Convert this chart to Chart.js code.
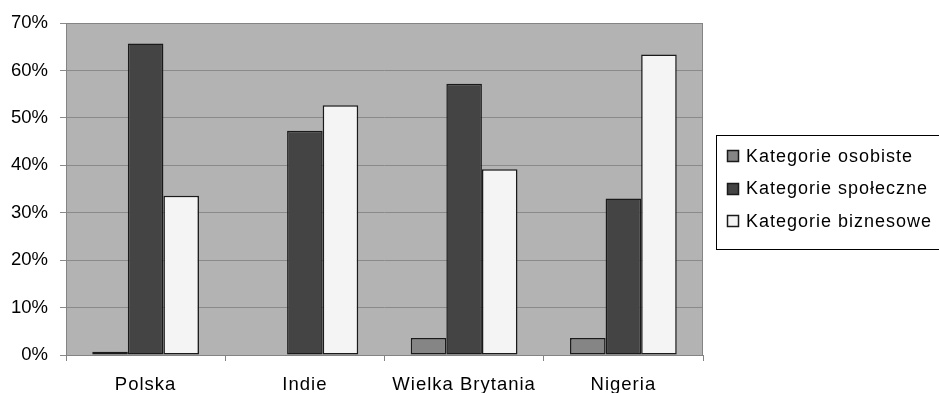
<!DOCTYPE html>
<html>
<head>
<meta charset="utf-8">
<script src="https://cdn.jsdelivr.net/npm/chart.js@4.4.1/dist/chart.umd.min.js"></script>
<style>
  html, body { margin: 0; padding: 0; background: #ffffff; }
  #wrap { width: 939px; height: 393px; position: relative; }
</style>
</head>
<body>
<div id="wrap"><canvas id="c" width="939" height="393"></canvas></div>
<script>
// Countries on the category axis
const countries = ['Polska', 'Indie', 'Wielka Brytania', 'Nigeria'];

// Share of each category group per country (percent)
const osobiste    = [0.7, 0, 3.6, 3.6];
const spoleczne   = [65.7, 47.3, 57.2, 33.0];
const biznesowe   = [33.6, 52.7, 39.2, 63.4];

const seriesNames = ['Kategorie osobiste', 'Kategorie społeczne', 'Kategorie biznesowe'];
const yTicks = [0, 10, 20, 30, 40, 50, 60, 70];

const FONT = '"Liberation Sans", Arial, sans-serif';

// Grey plot area with a thin frame
const plotArea = {
  id: 'plotArea',
  beforeDraw(chart) {
    const { ctx, chartArea: a } = chart;
    ctx.save();
    ctx.fillStyle = '#b3b3b3';
    ctx.fillRect(a.left, a.top, a.right - a.left, a.bottom - a.top);
    ctx.restore();
  },
  beforeDatasetsDraw(chart) {
    const { ctx, chartArea: a } = chart;
    ctx.save();
    ctx.strokeStyle = '#848484';
    ctx.lineWidth = 1;
    ctx.strokeRect(Math.round(a.left) + 0.5, Math.round(a.top) + 0.5,
                   Math.round(a.right - a.left) - 1, Math.round(a.bottom - a.top));
    ctx.restore();
  }
};

// Boxed legend on the right, built from the dataset labels and colours
const boxLegend = {
  id: 'boxLegend',
  afterDraw(chart) {
    const { ctx } = chart;
    const x0 = 716.5, y0 = 135.5, w = 230, h = 114;
    ctx.save();
    ctx.letterSpacing = '1px';
    ctx.strokeStyle = '#000000';
    ctx.lineWidth = 1;
    ctx.strokeRect(x0, y0, w, h);
    ctx.font = '18px ' + FONT;
    ctx.textBaseline = 'middle';
    ctx.textAlign = 'left';
    chart.data.datasets.forEach((ds, i) => {
      const cy = 156 + i * 32.5;
      ctx.fillStyle = ds.backgroundColor;
      ctx.fillRect(727.5, Math.round(cy - 6) + 0.5, 11, 11);
      ctx.strokeStyle = '#1a1a1a';
      ctx.lineWidth = 1.5;
      ctx.strokeRect(727.5, Math.round(cy - 6) + 0.5, 11, 11);
      ctx.fillStyle = '#000000';
      ctx.fillText(ds.label, 746, cy + 1);
    });
    ctx.restore();
  }
};

// Category labels are drawn with a little extra letter spacing
function spacedLabels(scale) {
  if (scale._spaced) return;
  scale._spaced = true;
  const base = scale.drawLabels;
  scale.drawLabels = function (area) {
    const ctx = this.ctx;
    const prev = ctx.letterSpacing;
    ctx.letterSpacing = '1px';
    base.call(this, area);
    ctx.letterSpacing = prev;
  };
}

const colours = ['#858585', '#444444', '#f4f4f4'];
const values = [osobiste, spoleczne, biznesowe];

new Chart(document.getElementById('c'), {
  type: 'bar',
  data: {
    labels: countries,
    datasets: seriesNames.map((name, i) => ({
      label: name,
      data: values[i],
      backgroundColor: colours[i],
      borderColor: '#1a1a1a',
      borderWidth: 1.5,
      borderSkipped: false,
      barPercentage: 1.0,
      categoryPercentage: 0.67
    }))
  },
  options: {
    responsive: false,
    animation: false,
    devicePixelRatio: 1,
    layout: { padding: { top: 22, right: 236, bottom: 0, left: 0 } },
    plugins: {
      legend: { display: false },
      tooltip: { enabled: false }
    },
    scales: {
      x: {
        grid: {
          display: true,
          drawOnChartArea: false,
          drawTicks: true,
          tickLength: 6,
          color: '#848484',
          offset: true
        },
        border: { display: false },
        ticks: {
          color: '#000000',
          font: { family: FONT, size: 18.5 },
          padding: 13,
          maxRotation: 0,
          autoSkip: false
        },
        afterFit(scale) { scale.height = 38; spacedLabels(scale); }
      },
      y: {
        min: 0,
        max: 70,
        afterBuildTicks(scale) { scale.ticks = yTicks.map(v => ({ value: v })); },
        grid: {
          color: '#8a8a8a',
          lineWidth: 1,
          tickLength: 6,
          drawTicks: true
        },
        border: { display: false },
        ticks: {
          color: '#000000',
          font: { family: FONT, size: 18.5 },
          padding: 12,
          callback: v => v + '%'
        },
        afterFit(scale) { scale.width = 66; }
      }
    }
  },
  plugins: [plotArea, boxLegend]
});
</script>
</body>
</html>
